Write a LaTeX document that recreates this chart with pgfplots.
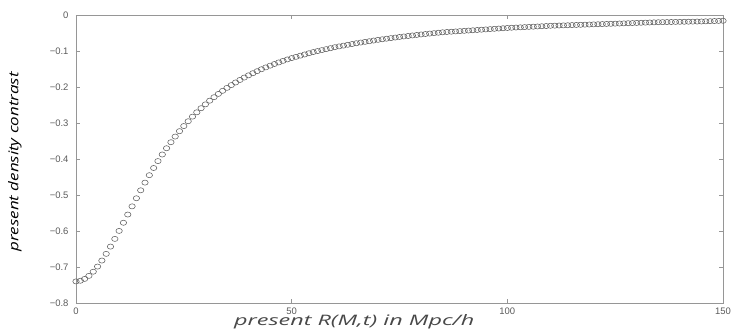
\documentclass[border=0pt]{standalone}
\usepackage{pgfplots}
\pgfplotsset{compat=1.18}
\usepackage{pgfplotstable}
\usepackage{fontspec}
\setmainfont{Liberation Sans}
\newfontfamily\lblfont{Open Sans}
\definecolor{axgray}{RGB}{150,150,150}
\definecolor{tickgray}{RGB}{90,90,90}
\definecolor{mk}{RGB}{95,95,95}
\pgfplotstableread{
x y
0 -0.7400
1 -0.7382
2 -0.7331
3 -0.7246
4 -0.7131
5 -0.6988
6 -0.6821
7 -0.6635
8 -0.6433
9 -0.6219
10 -0.5998
11 -0.5771
12 -0.5543
13 -0.5315
14 -0.5090
15 -0.4870
16 -0.4656
17 -0.4449
18 -0.4250
19 -0.4058
20 -0.3875
21 -0.3701
22 -0.3534
23 -0.3377
24 -0.3227
25 -0.3085
26 -0.2951
27 -0.2823
28 -0.2703
29 -0.2589
30 -0.2482
31 -0.2380
32 -0.2283
33 -0.2192
34 -0.2106
35 -0.2024
36 -0.1947
37 -0.1874
38 -0.1804
39 -0.1738
40 -0.1676
41 -0.1617
42 -0.1560
43 -0.1506
44 -0.1455
45 -0.1407
46 -0.1361
47 -0.1317
48 -0.1274
49 -0.1234
50 -0.1196
51 -0.1163
52 -0.1129
53 -0.1096
54 -0.1062
55 -0.1029
56 -0.1002
57 -0.0975
58 -0.0948
59 -0.0921
60 -0.0894
61 -0.0872
62 -0.0850
63 -0.0828
64 -0.0806
65 -0.0784
66 -0.0765
67 -0.0746
68 -0.0728
69 -0.0709
70 -0.0690
71 -0.0674
72 -0.0658
73 -0.0642
74 -0.0626
75 -0.0610
76 -0.0596
77 -0.0582
78 -0.0568
79 -0.0554
80 -0.0540
81 -0.0528
82 -0.0516
83 -0.0504
84 -0.0492
85 -0.0480
86 -0.0472
87 -0.0464
88 -0.0456
89 -0.0448
90 -0.0440
91 -0.0432
92 -0.0424
93 -0.0416
94 -0.0408
95 -0.0400
96 -0.0392
97 -0.0384
98 -0.0376
99 -0.0368
100 -0.0360
101 -0.0354
102 -0.0348
103 -0.0342
104 -0.0336
105 -0.0330
106 -0.0324
107 -0.0318
108 -0.0312
109 -0.0306
110 -0.0300
111 -0.0296
112 -0.0292
113 -0.0288
114 -0.0284
115 -0.0280
116 -0.0276
117 -0.0272
118 -0.0268
119 -0.0264
120 -0.0260
121 -0.0256
122 -0.0252
123 -0.0248
124 -0.0244
125 -0.0240
126 -0.0236
127 -0.0232
128 -0.0228
129 -0.0224
130 -0.0220
131 -0.0216
132 -0.0212
133 -0.0208
134 -0.0204
135 -0.0200
136 -0.0198
137 -0.0196
138 -0.0194
139 -0.0192
140 -0.0190
141 -0.0188
142 -0.0186
143 -0.0184
144 -0.0182
145 -0.0180
146 -0.0176
147 -0.0172
148 -0.0168
149 -0.0164
150 -0.0160
}\densitytable
\begin{document}
\begin{tikzpicture}
\begin{axis}[
  scale only axis,
  width=647bp, height=288bp,
  xmin=0, xmax=150, ymin=-0.8, ymax=0,
  xtick={0,50,100,150},
  xticklabels={0,50,100,150},
  ytick={-0.8,-0.7,-0.6,-0.5,-0.4,-0.3,-0.2,-0.1,0},
  yticklabels={−0.8,−0.7,−0.6,−0.5,−0.4,−0.3,−0.2,−0.1,0},
  tick align=inside,
  major tick length=4bp,
  axis line style={axgray, line width=0.8pt},
  tick style={axgray, line width=0.6pt},
  tick label style={font=\fontsize{9.5}{10}\selectfont, text=tickgray},
  yticklabel style={xshift=-4bp},
  xticklabel style={yshift=-1bp},
  xlabel={\lblfont\itshape\fontsize{14.5}{16}\selectfont\scalebox{1.62}[1]{present R(M,t) in Mpc/h}},
  ylabel={\lblfont\itshape\fontsize{13.5}{16}\selectfont\scalebox{1.26}[1]{present density contrast}},
  xlabel style={at={(axis description cs:0.43,0)}, anchor=center, yshift=-19bp, text=tickgray!80!black},
  ylabel style={at={(axis description cs:-0.0943,0.49)}, anchor=center, text=black},
  clip=false,
]
\addplot[only marks, mark=o, mark size=3.2bp, mark options={mk, line width=0.55pt, yscale=0.8}]
  table[x=x, y=y] {\densitytable};
\end{axis}
\pgfresetboundingbox
\path (-76bp,-28bp) rectangle (655bp,303bp);
\end{tikzpicture}
\end{document}
